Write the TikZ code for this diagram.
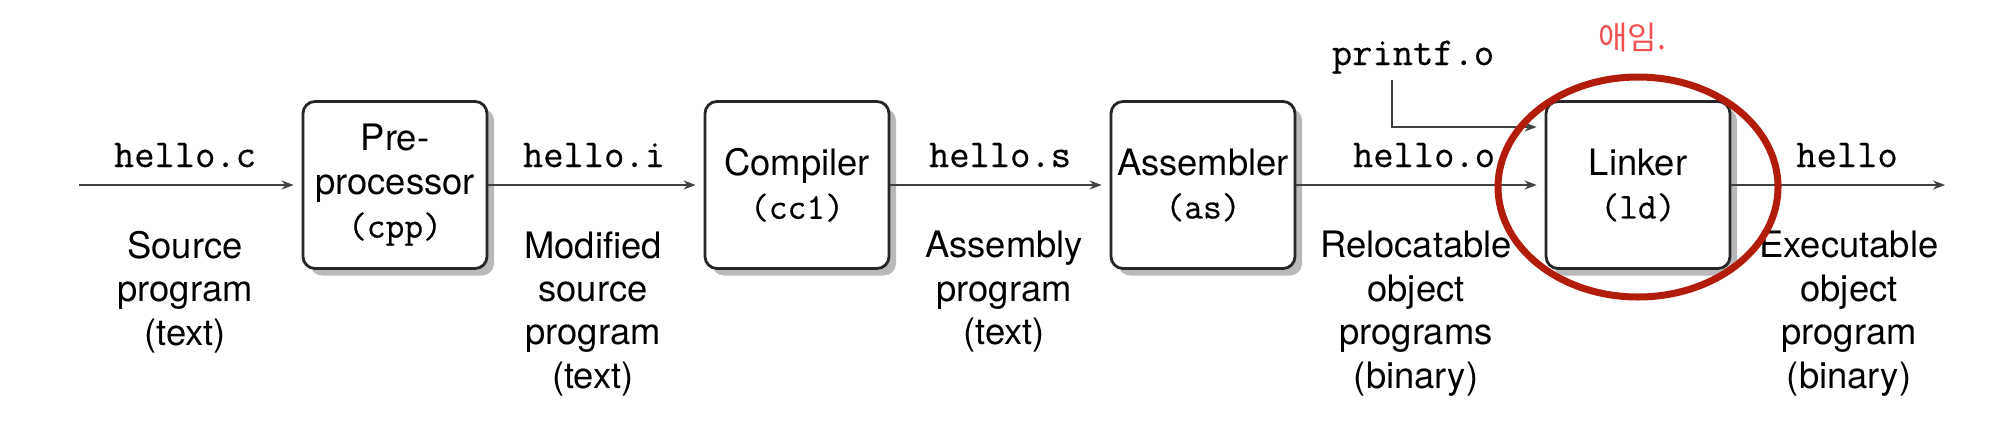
\documentclass[tikz,border=0pt]{standalone}
\usepackage{fontspec}
\setmainfont{TeX Gyre Heros}
\setmonofont[FakeBold=0.5]{Latin Modern Mono}
\newfontfamily\kofont{Noto Sans CJK KR}
\usetikzlibrary{arrows.meta,shadows,calc}
\definecolor{circred}{RGB}{178,28,10}
\definecolor{notered}{RGB}{240,80,80}
\begin{document}
\begin{tikzpicture}[x=0.5pt,y=-0.5pt,
  proc/.style={draw=black!85, line width=1.4pt, rounded corners=6pt,
    minimum width=92pt, minimum height=83.5pt, fill=white, align=center,
    inner sep=0pt, font=\fontsize{18.2}{21.7}\selectfont,
    drop shadow={shadow xshift=3.5pt, shadow yshift=-3.5pt, fill=black!55, opacity=0.5}},
  flow/.style={-{Stealth[length=6pt,width=4.5pt]}, line width=1pt, draw=black!75, shorten >=4pt},
  fname/.style={font=\fontsize{19.7}{22}\selectfont\ttfamily, anchor=base, inner sep=0pt},
  desc/.style={align=center, anchor=north, inner sep=0pt, font=\fontsize{18.2}{21.7}\selectfont}
]
\useasboundingbox (0,0) rectangle (2000,429);

% process boxes
\node[proc] (cpp) at (395,185) {Pre-\\processor\\{\ttfamily (cpp)}};
\node[proc] (cc)  at (797,185) {Compiler\\{\ttfamily (cc1)}};
\node[proc] (as)  at (1203,185) {Assembler\\{\ttfamily (as)}};
\node[proc] (ld)  at (1638,185) {Linker\\{\ttfamily (ld)}};

% endpoints
\coordinate (in) at (79,185);
\coordinate (out) at (1945,185);

% file labels
\node[fname] (fc) at (185,167) {hello.c};
\node[fname] (fi) at (594,167) {hello.i};
\node[fname] (fs) at (1000,167) {hello.s};
\node[fname] (fo) at (1424,167) {hello.o};
\node[fname] (fh) at (1847,167) {hello};
\node[fname] (pf) at (1413,65) {printf.o};

% descriptions
\node[desc] (d1) at (185,231) {Source\\program\\(text)};
\node[desc] (d2) at (593,231) {Modified\\source\\program\\(text)};
\node[desc] (d3) at (1004,231) {Assembly\\program\\(text)};
\node[desc] (d4) at (1416,231) {Relocatable\\object\\programs\\(binary)};
\node[desc] (d5) at (1849,231) {Executable\\object\\program\\(binary)};

% connectors
\draw[flow] (in) -- (cpp.west);
\draw[flow] (cpp.east) -- (cc.west);
\draw[flow] (cc.east) -- (as.west);
\draw[flow] (as.east) -- (ld.west);
\draw[flow, shorten >=0pt] (ld.east) -- (out);
\draw[flow] ([xshift=-10.5pt,yshift=-3pt]pf.south) |- ([yshift=29pt]ld.west);

% annotation
\draw[circred, line width=3.5pt] ([yshift=-1pt]ld.center) ellipse [x radius=70pt, y radius=55pt];
\node[text=notered, font=\kofont\fontsize{16}{18}\selectfont] (note) at (1632,38) {애임.};
\end{tikzpicture}
\end{document}
